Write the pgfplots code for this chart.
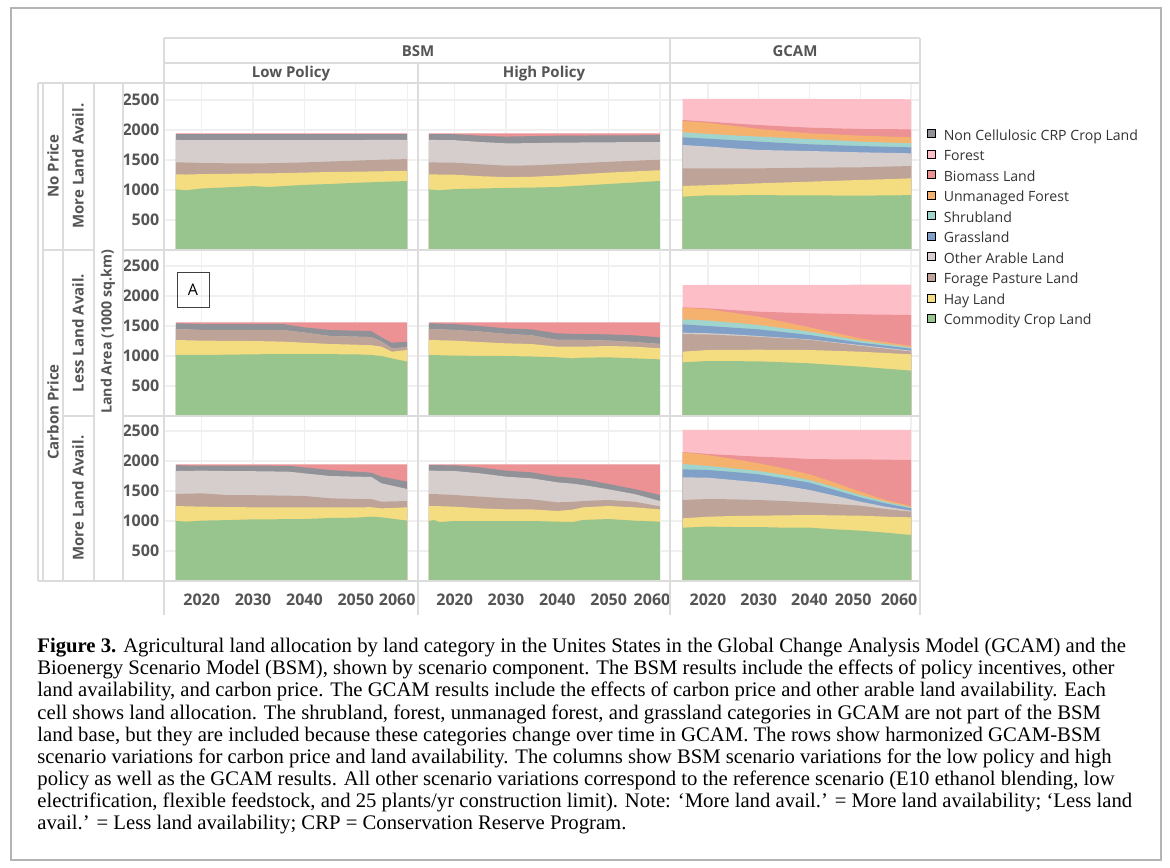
\documentclass[border=0pt]{standalone}
\usepackage{fontspec}
\setmainfont{Liberation Serif}
\newfontfamily\tabfont{Open Sans}
\usepackage{pgfplots}
\pgfplotsset{compat=1.18}
\usepackage{pgfplotstable}

\definecolor{cComm}{HTML}{98C48E}
\definecolor{cHay}{HTML}{F4DC80}
\definecolor{cForage}{HTML}{BEA398}
\definecolor{cArable}{HTML}{D5CECC}
\definecolor{cCRP}{HTML}{919198}
\definecolor{cBiomass}{HTML}{EC9194}
\definecolor{cForest}{HTML}{FDBEC8}
\definecolor{cUnman}{HTML}{F5B26E}
\definecolor{cShrub}{HTML}{A0D4CE}
\definecolor{cGrass}{HTML}{80A0C8}
\definecolor{labgray}{HTML}{555555}
\definecolor{legtext}{HTML}{333333}
\definecolor{linegray}{HTML}{DCDCDC}
\definecolor{gridgray}{HTML}{F0F0F0}
\definecolor{framegray}{HTML}{B4B4B4}

% BSM panels: cumulative tops (1000 sq.km)
\pgfplotstableread{
year comm hay forage arable crp biomass
2015 1010 1260 1460 1835 1930 1945
2017 995 1258 1458 1830 1930 1945
2020 1025 1265 1450 1830 1930 1945
2025 1045 1270 1445 1830 1930 1945
2030 1065 1275 1445 1830 1930 1945
2033 1050 1277 1446 1830 1930 1945
2035 1060 1280 1450 1830 1930 1945
2040 1085 1290 1460 1830 1930 1945
2045 1100 1300 1475 1832 1930 1945
2050 1120 1305 1490 1833 1930 1945
2055 1135 1312 1505 1834 1930 1945
2060 1150 1320 1515 1835 1930 1945
}\pA
\pgfplotstableread{
year comm hay forage arable crp biomass
2015 1010 1260 1460 1835 1930 1945
2017 995 1258 1458 1833 1930 1945
2020 1015 1255 1455 1830 1930 1945
2025 1025 1230 1430 1800 1905 1945
2030 1035 1215 1405 1778 1890 1945
2035 1040 1220 1410 1780 1898 1945
2040 1050 1240 1430 1790 1905 1945
2045 1075 1265 1450 1792 1908 1945
2050 1100 1290 1470 1795 1910 1945
2055 1125 1310 1488 1798 1912 1945
2060 1150 1330 1505 1800 1915 1945
}\pB
\pgfplotstableread{
year comm hay forage arable crp biomass
2015 1017 1267 1450 1450 1545 1560
2020 1017 1256 1433 1433 1533 1560
2025 1022 1253 1433 1433 1533 1560
2030 1028 1250 1433 1433 1533 1560
2036 1033 1239 1430 1430 1530 1560
2040 1033 1222 1389 1389 1478 1560
2045 1030 1200 1333 1333 1433 1560
2050 1028 1189 1322 1322 1422 1560
2053 1017 1180 1315 1315 1415 1560
2055 1000 1156 1239 1239 1311 1560
2057 961 1072 1128 1128 1222 1560
2060 906 1100 1144 1144 1239 1560
}\pD
\pgfplotstableread{
year comm hay forage arable crp biomass
2015 1017 1267 1450 1450 1545 1560
2020 1006 1256 1433 1433 1533 1560
2025 1003 1233 1406 1406 1500 1560
2030 1000 1211 1367 1367 1461 1560
2035 992 1200 1344 1344 1444 1560
2040 978 1156 1267 1267 1378 1560
2043 961 1156 1267 1267 1370 1560
2045 972 1156 1267 1267 1367 1560
2050 978 1167 1256 1256 1361 1560
2055 961 1156 1233 1233 1344 1560
2060 944 1128 1200 1200 1311 1560
}\pE
\pgfplotstableread{
year comm hay forage arable crp biomass
2015 1000 1250 1450 1833 1933 1945
2017 990 1245 1455 1836 1925 1945
2020 1006 1239 1461 1839 1922 1945
2025 1015 1233 1433 1833 1922 1945
2030 1028 1228 1430 1830 1922 1945
2037 1030 1228 1422 1822 1920 1945
2040 1033 1228 1417 1794 1894 1945
2045 1050 1228 1378 1750 1850 1945
2050 1056 1228 1367 1739 1822 1945
2053 1072 1230 1365 1735 1806 1945
2055 1061 1211 1322 1628 1739 1945
2060 1006 1228 1333 1533 1656 1945
}\pG
\pgfplotstableread{
year comm hay forage arable crp biomass
2015 1000 1250 1450 1839 1933 1945
2016 1017 1250 1448 1838 1932 1945
2017 983 1247 1445 1836 1930 1945
2020 1000 1239 1433 1833 1928 1945
2025 1000 1211 1406 1794 1894 1945
2030 1000 1194 1378 1739 1839 1945
2035 1000 1194 1361 1711 1811 1945
2040 989 1167 1311 1644 1739 1945
2043 983 1190 1320 1622 1720 1945
2045 1017 1228 1333 1600 1700 1945
2050 1033 1250 1350 1528 1617 1945
2055 1006 1228 1322 1450 1533 1945
2060 989 1194 1244 1333 1433 1945
}\pH
% GCAM panels: cumulative tops
\pgfplotstableread{
year comm hay forage arable grass shrub unman biomass forest
2015 889 1067 1361 1750 1878 1961 2150 2167 2520
2020 911 1080 1361 1725 1855 1935 2120 2140 2520
2025 912 1095 1361 1695 1830 1910 2070 2110 2520
2030 914 1111 1361 1667 1806 1889 2017 2083 2520
2035 912 1125 1366 1658 1783 1870 1980 2060 2518
2040 911 1139 1372 1650 1761 1850 1944 2039 2517
2045 908 1153 1375 1639 1747 1828 1925 2028 2516
2050 906 1167 1378 1628 1733 1806 1906 2017 2515
2055 910 1180 1389 1620 1722 1792 1892 2014 2514
2060 914 1194 1400 1611 1711 1778 1878 2011 2512
}\pC
\pgfplotstableread{
year comm hay forage arable grass shrub unman biomass forest
2015 894 1072 1365 1389 1528 1611 1806 1811 2183
2020 917 1100 1360 1380 1500 1590 1780 1794 2184
2025 914 1103 1340 1360 1472 1555 1720 1765 2185
2030 911 1105 1320 1333 1444 1517 1656 1739 2185
2035 895 1102 1295 1305 1397 1462 1567 1725 2186
2040 878 1100 1270 1278 1350 1406 1478 1711 2186
2045 850 1086 1220 1230 1286 1331 1386 1703 2187
2050 822 1072 1170 1183 1222 1256 1294 1694 2188
2055 789 1050 1122 1136 1172 1200 1230 1689 2188
2060 756 1028 1075 1089 1122 1144 1167 1683 2189
}\pF
\pgfplotstableread{
year comm hay forage arable grass shrub unman biomass forest
2015 889 1044 1350 1728 1861 1950 2144 2150 2520
2020 906 1072 1367 1722 1850 1917 2100 2117 2520
2025 900 1083 1361 1683 1817 1878 2033 2094 2520
2030 900 1089 1350 1644 1778 1833 1961 2072 2520
2035 889 1094 1333 1589 1711 1767 1878 2056 2520
2040 889 1100 1311 1517 1639 1683 1778 2033 2520
2045 861 1094 1283 1422 1517 1561 1639 2028 2520
2050 839 1089 1256 1322 1394 1433 1489 2028 2520
2055 806 1072 1200 1239 1294 1322 1350 2022 2520
2060 767 1061 1156 1172 1211 1228 1250 2017 2520
}\pI

\newcommand{\bsmplots}[1]{%
  \addplot[fill=cBiomass,draw=none,forget plot] table[x=year,y=biomass]{#1}\closedcycle;
  \addplot[fill=cCRP,draw=none,forget plot] table[x=year,y=crp]{#1}\closedcycle;
  \addplot[fill=cArable,draw=none,forget plot] table[x=year,y=arable]{#1}\closedcycle;
  \addplot[fill=cForage,draw=none,forget plot] table[x=year,y=forage]{#1}\closedcycle;
  \addplot[fill=cHay,draw=none,forget plot] table[x=year,y=hay]{#1}\closedcycle;
  \addplot[fill=cComm,draw=none,forget plot] table[x=year,y=comm]{#1}\closedcycle;
}
\newcommand{\gcamplots}[1]{%
  \addplot[fill=cForest,draw=none,forget plot] table[x=year,y=forest]{#1}\closedcycle;
  \addplot[fill=cBiomass,draw=none,forget plot] table[x=year,y=biomass]{#1}\closedcycle;
  \addplot[fill=cUnman,draw=none,forget plot] table[x=year,y=unman]{#1}\closedcycle;
  \addplot[fill=cShrub,draw=none,forget plot] table[x=year,y=shrub]{#1}\closedcycle;
  \addplot[fill=cGrass,draw=none,forget plot] table[x=year,y=grass]{#1}\closedcycle;
  \addplot[fill=cArable,draw=none,forget plot] table[x=year,y=arable]{#1}\closedcycle;
  \addplot[fill=cForage,draw=none,forget plot] table[x=year,y=forage]{#1}\closedcycle;
  \addplot[fill=cHay,draw=none,forget plot] table[x=year,y=hay]{#1}\closedcycle;
  \addplot[fill=cComm,draw=none,forget plot] table[x=year,y=comm]{#1}\closedcycle;
}

\pgfplotsset{
  panel/.style={scale only axis, anchor=north west, ymin=0,
    axis line style={draw=none}, major tick length=0pt, tick style={draw=none},
    xtick={2020,2030,2040,2050,2060}, ytick={500,1000,1500,2000,2500},
    xmajorgrids, ymajorgrids, major grid style={draw=gridgray, line width=0.6pt},
    xticklabels={}, yticklabels={},
    tick label style={font=\tabfont\bfseries\fontsize{8}{9}\selectfont, text=labgray}},
  c1/.style={panel, width=126.5pt, xmin=2012.86, xmax=2062.1},
  c2/.style={panel, width=126pt, xmin=2012.86, xmax=2061.95},
  c3/.style={panel, width=125pt, xmin=2012.52, xmax=2061.77},
  r1/.style={height=83.5pt, ymax=2783.3},
  r2/.style={height=83pt, ymax=2766.7},
  r3/.style={height=82.5pt, ymax=2750},
  ylab/.style={yticklabels={500,1000,1500,2000,2500}, yticklabel style={xshift=0.6pt}},
  xlabstyle/.style={xticklabel style={yshift=-2.8pt}},
}

\begin{document}
\begin{tikzpicture}
\useasboundingbox (0,0) rectangle (585pt,-433.5pt);
\fill[white] (0,0) rectangle (585pt,-433.5pt);

% Row 1
\begin{axis}[c1, r1, ylab, at={(82.5pt,-41.5pt)}]
\bsmplots{\pA}
\end{axis}
\begin{axis}[c2, r1, at={(209pt,-41.5pt)}]
\bsmplots{\pB}
\end{axis}
\begin{axis}[c3, r1, at={(335pt,-41.5pt)},
  legend style={at={(1.028,0.7216)}, anchor=north west, draw=none, fill=none,
    inner sep=0pt, outer sep=0pt, row sep=3.3pt,
    font=\tabfont\fontsize{7.05}{7.5}\selectfont, text=legtext,
    nodes={inner sep=0pt, text height=5pt, text depth=1.5pt},
    /tikz/every odd column/.append style={column sep=4pt}},
  legend cell align=left,
  legend image code/.code={\fill[#1] (0pt,-0.5pt) rectangle (4pt,3.5pt);}]
\gcamplots{\pC}
\addlegendimage{fill=cCRP}\addlegendentry{Non Cellulosic CRP Crop Land}
\addlegendimage{fill=cForest}\addlegendentry{Forest}
\addlegendimage{fill=cBiomass}\addlegendentry{Biomass Land}
\addlegendimage{fill=cUnman}\addlegendentry{Unmanaged Forest}
\addlegendimage{fill=cShrub}\addlegendentry{Shrubland}
\addlegendimage{fill=cGrass}\addlegendentry{Grassland}
\addlegendimage{fill=cArable}\addlegendentry{Other Arable Land}
\addlegendimage{fill=cForage}\addlegendentry{Forage Pasture Land}
\addlegendimage{fill=cHay}\addlegendentry{Hay Land}
\addlegendimage{fill=cComm}\addlegendentry{Commodity Crop Land}
\end{axis}

% Row 2
\begin{axis}[c1, r2, ylab, at={(82.5pt,-125pt)}]
\bsmplots{\pD}
\end{axis}
\begin{axis}[c2, r2, at={(209pt,-125pt)}]
\bsmplots{\pE}
\end{axis}
\begin{axis}[c3, r2, at={(335pt,-125pt)}]
\gcamplots{\pF}
\end{axis}

% Row 3
\begin{axis}[c1, r3, ylab, xlabstyle, at={(82.5pt,-208pt)},
  xticklabels={2020,2030,2040,2050,\makebox[0pt]{\hspace*{-10pt}2060}}]
\bsmplots{\pG}
\end{axis}
\begin{axis}[c2, r3, xlabstyle, at={(209pt,-208pt)},
  xticklabels={2020,2030,2040,2050,\makebox[0pt]{\hspace*{-8pt}2060}}]
\bsmplots{\pH}
\end{axis}
\begin{axis}[c3, r3, xlabstyle, at={(335pt,-208pt)},
  xticklabels={2020,2030,2040,\makebox[0pt]{\hspace*{-7pt}2050},\makebox[0pt]{\hspace*{-12pt}2060}}]
\gcamplots{\pI}
\end{axis}

\begin{scope}[x=0.5pt,y=-0.5pt]
  % outer frame
  \draw[framegray, line width=0.8pt] (11,8) rectangle (1161,860);
  % table lines
  \begin{scope}[draw=linegray, line width=0.6pt]
    \draw (164,38) -- (920,38);
    \draw (164,63) -- (920,63);
    \draw (38,83) -- (920,83);
    \draw (43,250) -- (94,250); \draw (123,250) -- (920,250);
    \draw (63,416) -- (94,416); \draw (123,416) -- (920,416);
    \draw (38,581) -- (920,581);
    \draw (38,83) -- (38,581);
    \draw (43,83) -- (43,581);
    \draw (63,83) -- (63,581);
    \draw (94,83) -- (94,581);
    \draw (123,83) -- (123,581);
    \draw (164,38) -- (164,615);
    \draw (418,63) -- (418,615);
    \draw (670,38) -- (670,615);
    \draw (920,38) -- (920,615);
  \end{scope}
  % headers
  \begin{scope}[every node/.style={font=\tabfont\bfseries\fontsize{7.5}{9}\selectfont, text=labgray, inner sep=0pt}]
    \node at (418,51) {BSM};
    \node at (795,51) {GCAM};
    \node at (291,74) {Low Policy};
    \node at (544,74) {High Policy};
    \node[rotate=90] at (53,166) {No Price};
    \node[rotate=90] at (53,412) {Carbon Price};
    \node[rotate=90] at (78,166) {More Land Avail.};
    \node[rotate=90] at (78,333) {Less Land Avail.};
    \node[rotate=90] at (78,498) {More Land Avail.};
    \node[rotate=90, font=\tabfont\bfseries\fontsize{7.1}{9}\selectfont] at (108,332) {Land Area (1000 sq.km)};
  \end{scope}
  % panel tag
  \node[draw=black!75, line width=0.5pt, minimum width=16pt, minimum height=17.5pt, inner sep=0pt,
        font=\tabfont\fontsize{8}{9}\selectfont] at (193,290) {A};
  % caption
  \node[anchor=north west, inner sep=0pt, align=left, font=\fontsize{10.35}{11.05}\selectfont] at (37,638) {%
  \textbf{Figure 3.} Agricultural land allocation by land category in the Unites States in the Global Change Analysis Model (GCAM) and the\\
  Bioenergy Scenario Model (BSM), shown by scenario component. The BSM results include the effects of policy incentives, other\\
  land availability, and carbon price. The GCAM results include the effects of carbon price and other arable land availability. Each\\
  cell shows land allocation. The shrubland, forest, unmanaged forest, and grassland categories in GCAM are not part of the BSM\\
  land base, but they are included because these categories change over time in GCAM. The rows show harmonized GCAM-BSM\\
  scenario variations for carbon price and land availability. The columns show BSM scenario variations for the low policy and high\\
  policy as well as the GCAM results. All other scenario variations correspond to the reference scenario (E10 ethanol blending, low\\
  electrification, flexible feedstock, and 25 plants/yr construction limit). Note: ‘More land avail.’ = More land availability; ‘Less land\\
  avail.’ = Less land availability; CRP = Conservation Reserve Program.};
\end{scope}
\end{tikzpicture}
\end{document}
